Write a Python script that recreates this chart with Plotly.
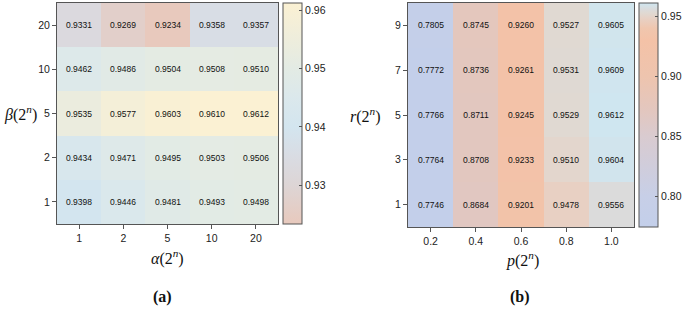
import plotly.graph_objects as go

# ---- data (a) ----
alpha_labels = ["1", "2", "5", "10", "20"]
beta_labels = ["1", "2", "5", "10", "20"]
acc_a_beta1 = [0.9398, 0.9446, 0.9481, 0.9493, 0.9498]
acc_a_beta2 = [0.9434, 0.9471, 0.9495, 0.9503, 0.9506]
acc_a_beta5 = [0.9535, 0.9577, 0.9603, 0.9610, 0.9612]
acc_a_beta10 = [0.9462, 0.9486, 0.9504, 0.9508, 0.9510]
acc_a_beta20 = [0.9331, 0.9269, 0.9234, 0.9358, 0.9357]

# ---- data (b) ----
p_labels = ["0.2", "0.4", "0.6", "0.8", "1.0"]
r_labels = ["1", "3", "5", "7", "9"]
acc_b_r1 = [0.7746, 0.8684, 0.9201, 0.9478, 0.9556]
acc_b_r3 = [0.7764, 0.8708, 0.9233, 0.9510, 0.9604]
acc_b_r5 = [0.7766, 0.8711, 0.9245, 0.9529, 0.9612]
acc_b_r7 = [0.7772, 0.8736, 0.9261, 0.9531, 0.9609]
acc_b_r9 = [0.7805, 0.8745, 0.9260, 0.9527, 0.9605]

z_a = [acc_a_beta1, acc_a_beta2, acc_a_beta5, acc_a_beta10, acc_a_beta20]
z_b = [acc_b_r1, acc_b_r3, acc_b_r5, acc_b_r7, acc_b_r9]

W, H = 685, 309
def px_x(v): return v / W
def px_y(v): return 1 - v / H

scale_a = [
    [0.0, "#e8c9bd"], [0.175, "#ddd5d5"], [0.307, "#d9dce3"], [0.439, "#d3e5ef"],
    [0.571, "#dbe8ec"], [0.704, "#e3ebe4"], [0.836, "#eeeddc"], [1.0, "#fbf1d3"],
]
scale_b = [
    [0.0, "#c3cfea"], [0.136, "#c7cfe7"], [0.404, "#d9cbd0"], [0.511, "#e2c7c0"],
    [0.672, "#eec4ae"], [0.833, "#f4c2a7"], [0.886, "#f0c6ae"], [0.928, "#e8d0c3"],
    [0.955, "#e0d9d2"], [0.970, "#dbdbdb"], [1.0, "#cfe6f0"],
]

def fmt(z):
    return [[f"{v:.4f}" for v in row] for row in z]

tickfont = dict(family="Liberation Sans, Arial, sans-serif", size=10.5, color="#222")
cb_common = dict(
    thickness=19, thicknessmode="pixels", lenmode="fraction",
    outlinewidth=1, outlinecolor="#555", ticks="inside", ticklen=3,
    tickcolor="#555", tickfont=dict(family="Liberation Sans, Arial, sans-serif", size=10.5, color="#222"),
    xanchor="left", yanchor="middle", xpad=0, ypad=0,
)

fig = go.Figure()
fig.add_trace(go.Heatmap(
    z=z_a, x=alpha_labels, y=beta_labels, colorscale=scale_a,
    zmin=min(min(r) for r in z_a), zmax=max(max(r) for r in z_a),
    text=fmt(z_a), texttemplate="%{text}",
    textfont=dict(family="Liberation Sans, Arial, sans-serif", size=8.5, color="#111"),
    xaxis="x", yaxis="y",
    colorbar=dict(**cb_common, x=px_x(283), y=px_y(113.5), len=221 / H,
                  tickvals=[0.93, 0.94, 0.95, 0.96], ticktext=["0.93", "0.94", "0.95", "0.96"]),
    hoverinfo="skip",
))
fig.add_trace(go.Heatmap(
    z=z_b, x=p_labels, y=r_labels, colorscale=scale_b,
    zmin=min(min(r) for r in z_b), zmax=max(max(r) for r in z_b),
    text=fmt(z_b), texttemplate="%{text}",
    textfont=dict(family="Liberation Sans, Arial, sans-serif", size=8.5, color="#111"),
    xaxis="x2", yaxis="y2",
    colorbar=dict(**cb_common, x=px_x(639), y=px_y(115), len=224 / H,
                  tickvals=[0.80, 0.85, 0.90, 0.95], ticktext=["0.80", "0.85", "0.90", "0.95"]),
    hoverinfo="skip",
))

axis_common = dict(
    type="category", showline=True, linecolor="#555", linewidth=1, mirror=True,
    ticks="outside", ticklen=4, tickcolor="#555", tickfont=tickfont, showgrid=False,
    zeroline=False, fixedrange=True, automargin=False,
)
fig.update_layout(
    width=W, height=H, margin=dict(l=0, r=0, t=0, b=0, autoexpand=False),
    paper_bgcolor="white", plot_bgcolor="white", showlegend=False,
    xaxis=dict(**axis_common, domain=[px_x(57), px_x(278)], anchor="y"),
    yaxis=dict(**axis_common, domain=[px_y(224), px_y(3)], anchor="x"),
    xaxis2=dict(**axis_common, domain=[px_x(408), px_x(634)], anchor="y2"),
    yaxis2=dict(**axis_common, domain=[px_y(227), px_y(3)], anchor="x2"),
)

serif = "Liberation Serif, DejaVu Serif, serif"
ann = [
    dict(text="<i>β</i>(2<sup><i>n</i></sup>)", x=px_x(39), y=2, xref="paper", yref="y",
         xanchor="right", yanchor="middle", font=dict(family=serif, size=16, color="#111")),
    dict(text="<i>r</i>(2<sup><i>n</i></sup>)", x=px_x(382), y=2, xref="paper", yref="y2",
         xanchor="right", yanchor="middle", font=dict(family=serif, size=16, color="#111")),
    dict(text="<i>α</i>(2<sup><i>n</i></sup>)", x=px_x(167), y=px_y(257), xref="paper", yref="paper",
         xanchor="center", yanchor="middle", font=dict(family=serif, size=16, color="#111")),
    dict(text="<i>p</i>(2<sup><i>n</i></sup>)", x=px_x(522), y=px_y(259), xref="paper", yref="paper",
         xanchor="center", yanchor="middle", font=dict(family=serif, size=16, color="#111")),
    dict(text="<b>(a)</b>", x=px_x(162), y=px_y(297), xref="paper", yref="paper",
         xanchor="center", yanchor="middle", font=dict(family=serif, size=16, color="#111")),
    dict(text="<b>(b)</b>", x=px_x(520), y=px_y(297), xref="paper", yref="paper",
         xanchor="center", yanchor="middle", font=dict(family=serif, size=16, color="#111")),
]
for a in ann:
    a["showarrow"] = False
fig.update_layout(annotations=ann)
fig.write_html("out.html", config={"displayModeBar": False},
               post_script="document.body.style.margin='0';document.body.style.overflow='hidden';")
